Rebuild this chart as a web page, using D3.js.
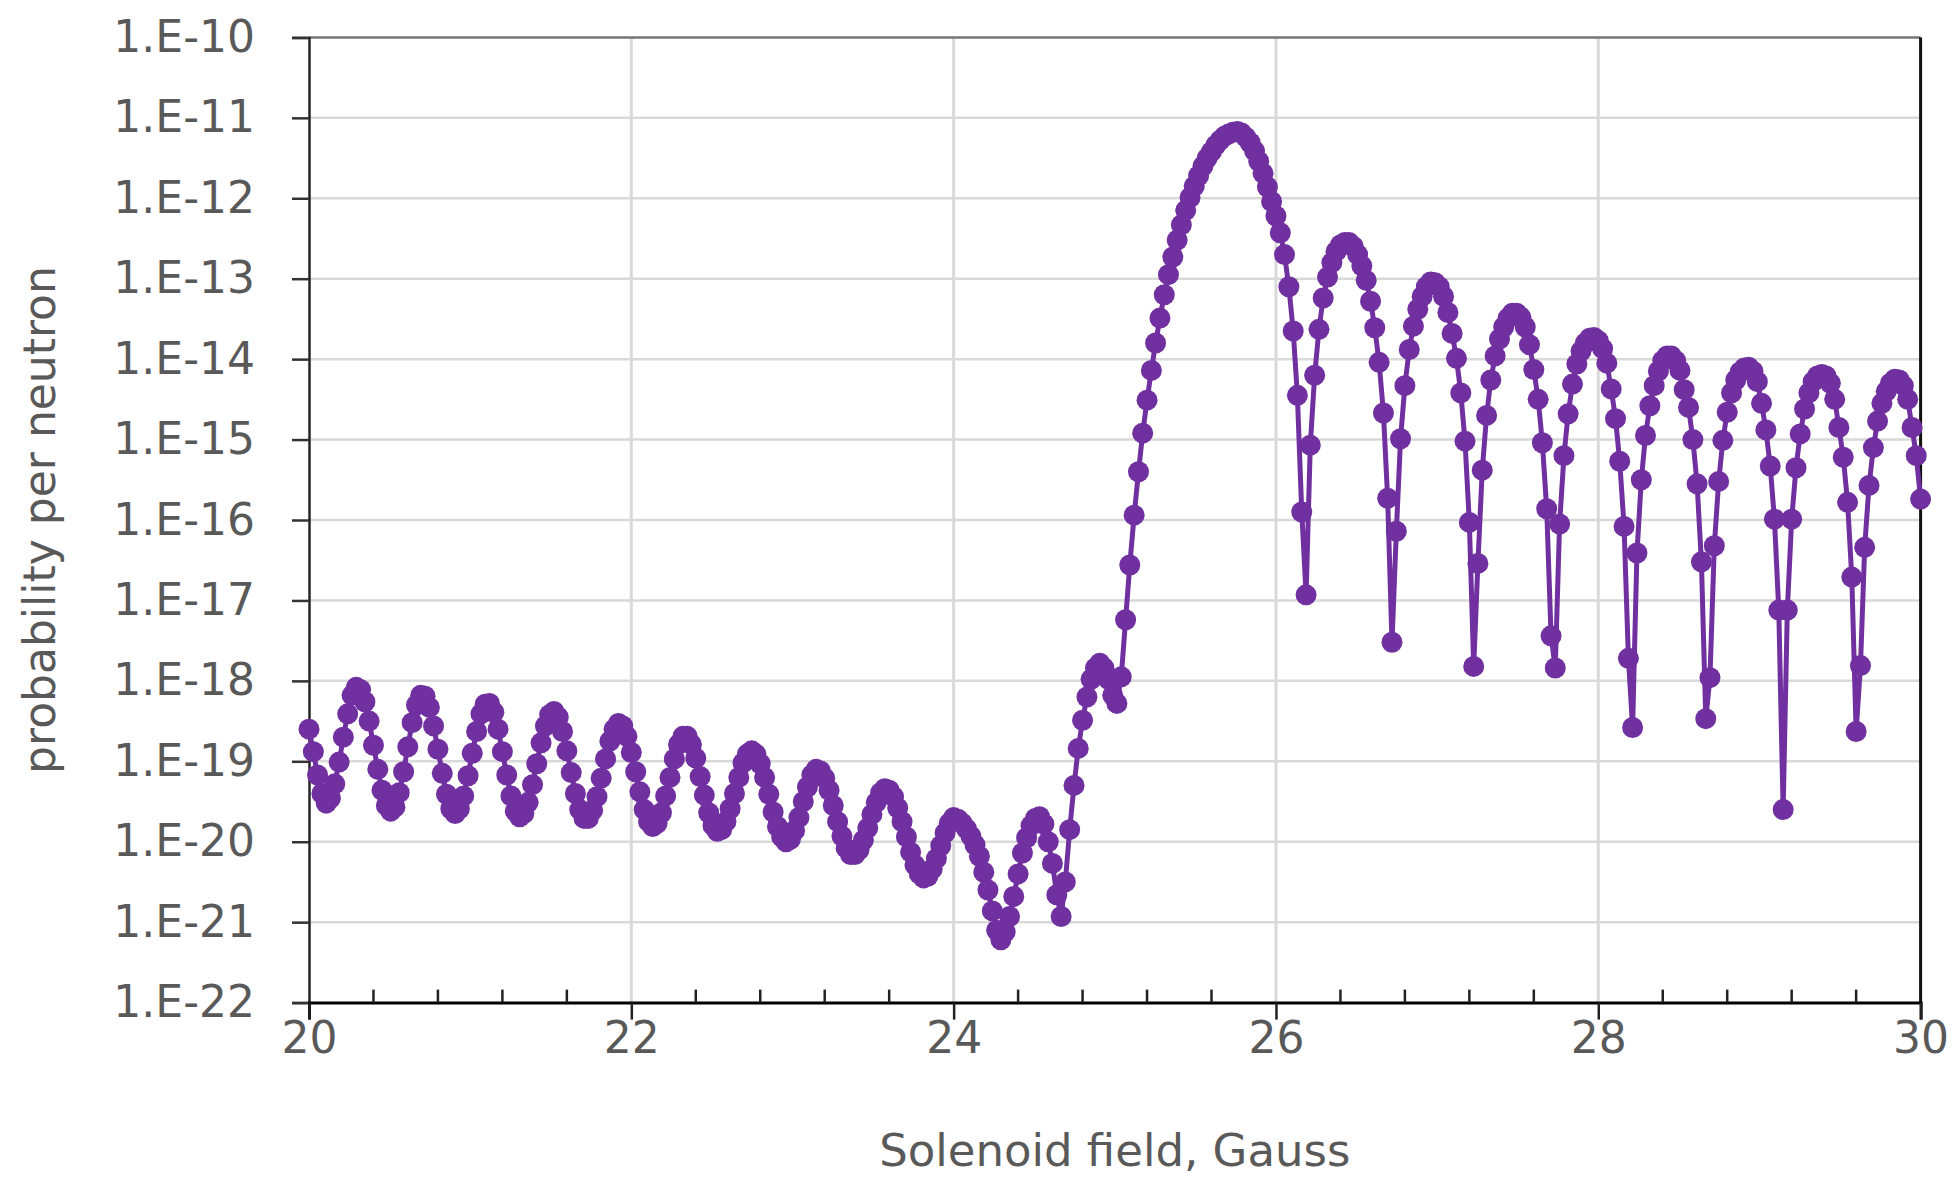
<!DOCTYPE html>
<html><head><meta charset="utf-8">
<script src="https://cdn.jsdelivr.net/npm/d3@7"></script>
<style>html,body{margin:0;padding:0;background:#fff;} svg{display:block;}</style>
</head><body><svg id="chart" width="1953" height="1182"></svg>
<script>
// Solenoid field (Gauss) sample grid
const fieldGauss = [
20,20.027,20.053,20.08,20.107,20.133,20.16,20.187,20.213,20.24,20.267,20.293,20.32,20.347,20.373,
20.4,20.427,20.453,20.48,20.507,20.533,20.56,20.587,20.613,20.64,20.667,20.693,20.72,20.747,20.773,
20.8,20.827,20.853,20.88,20.907,20.933,20.96,20.987,21.013,21.04,21.067,21.093,21.12,21.147,21.173,
21.2,21.227,21.253,21.28,21.307,21.333,21.36,21.387,21.413,21.44,21.467,21.493,21.52,21.547,21.573,
21.6,21.627,21.653,21.68,21.707,21.733,21.76,21.787,21.813,21.84,21.867,21.893,21.92,21.947,21.973,
22,22.027,22.053,22.08,22.107,22.133,22.16,22.187,22.213,22.24,22.267,22.293,22.32,22.347,22.373,
22.4,22.427,22.453,22.48,22.507,22.533,22.56,22.587,22.613,22.64,22.667,22.693,22.72,22.747,22.773,
22.8,22.827,22.853,22.88,22.907,22.933,22.96,22.987,23.013,23.04,23.067,23.093,23.12,23.147,23.173,
23.2,23.227,23.253,23.28,23.307,23.333,23.36,23.387,23.413,23.44,23.467,23.493,23.52,23.547,23.573,
23.6,23.627,23.653,23.68,23.707,23.733,23.76,23.787,23.813,23.84,23.867,23.893,23.92,23.947,23.973,
24,24.027,24.053,24.08,24.107,24.133,24.16,24.187,24.213,24.24,24.267,24.293,24.32,24.347,24.373,
24.4,24.427,24.453,24.48,24.507,24.533,24.56,24.587,24.613,24.64,24.667,24.693,24.72,24.747,24.773,
24.8,24.827,24.853,24.88,24.907,24.933,24.96,24.987,25.013,25.04,25.067,25.093,25.12,25.147,25.173,
25.2,25.227,25.253,25.28,25.307,25.333,25.36,25.387,25.413,25.44,25.467,25.493,25.52,25.547,25.573,
25.6,25.627,25.653,25.68,25.707,25.733,25.76,25.787,25.813,25.84,25.867,25.893,25.92,25.947,25.973,
26,26.027,26.053,26.08,26.107,26.133,26.16,26.187,26.213,26.24,26.267,26.293,26.32,26.347,26.373,
26.4,26.427,26.453,26.48,26.507,26.533,26.56,26.587,26.613,26.64,26.667,26.693,26.72,26.747,26.773,
26.8,26.827,26.853,26.88,26.907,26.933,26.96,26.987,27.013,27.04,27.067,27.093,27.12,27.147,27.173,
27.2,27.227,27.253,27.28,27.307,27.333,27.36,27.387,27.413,27.44,27.467,27.493,27.52,27.547,27.573,
27.6,27.627,27.653,27.68,27.707,27.733,27.76,27.787,27.813,27.84,27.867,27.893,27.92,27.947,27.973,
28,28.027,28.053,28.08,28.107,28.133,28.16,28.187,28.213,28.24,28.267,28.293,28.32,28.347,28.373,
28.4,28.427,28.453,28.48,28.507,28.533,28.56,28.587,28.613,28.64,28.667,28.693,28.72,28.747,28.773,
28.8,28.827,28.853,28.88,28.907,28.933,28.96,28.987,29.013,29.04,29.067,29.093,29.12,29.147,29.173,
29.2,29.227,29.253,29.28,29.307,29.333,29.36,29.387,29.413,29.44,29.467,29.493,29.52,29.547,29.573,
29.6,29.627,29.653,29.68,29.707,29.733,29.76,29.787,29.813,29.84,29.867,29.893,29.92,29.947,29.973,
30
];

// probability per neutron, stored as base-10 exponents
const probabilityExponent = [
-18.60,-18.88,-19.17,-19.40,-19.52,-19.46,-19.28,-19.01,-18.70,-18.41,-18.18,-18.08,-18.11,-18.26,-18.50,
-18.80,-19.10,-19.36,-19.55,-19.62,-19.57,-19.39,-19.13,-18.82,-18.52,-18.30,-18.18,-18.19,-18.33,-18.56,
-18.85,-19.15,-19.41,-19.59,-19.65,-19.59,-19.43,-19.18,-18.90,-18.63,-18.41,-18.29,-18.28,-18.39,-18.60,
-18.88,-19.17,-19.43,-19.62,-19.69,-19.65,-19.51,-19.29,-19.03,-18.77,-18.56,-18.42,-18.38,-18.45,-18.63,
-18.87,-19.14,-19.40,-19.60,-19.71,-19.71,-19.61,-19.44,-19.21,-18.97,-18.75,-18.60,-18.53,-18.56,-18.69,
-18.89,-19.13,-19.38,-19.60,-19.75,-19.81,-19.77,-19.64,-19.43,-19.20,-18.97,-18.79,-18.69,-18.69,-18.79,
-18.96,-19.19,-19.42,-19.64,-19.80,-19.87,-19.85,-19.75,-19.59,-19.40,-19.20,-19.02,-18.91,-18.87,-18.91,
-19.03,-19.20,-19.41,-19.63,-19.81,-19.94,-20.00,-19.97,-19.86,-19.70,-19.50,-19.32,-19.17,-19.10,-19.12,
-19.21,-19.36,-19.55,-19.75,-19.93,-20.08,-20.16,-20.16,-20.10,-19.98,-19.83,-19.66,-19.51,-19.39,-19.34,
-19.36,-19.44,-19.58,-19.75,-19.94,-20.13,-20.29,-20.40,-20.45,-20.43,-20.34,-20.21,-20.05,-19.89,-19.77,
-19.70,-19.72,-19.77,-19.84,-19.93,-20.04,-20.18,-20.38,-20.60,-20.86,-21.10,-21.22,-21.12,-20.93,-20.68,
-20.40,-20.14,-19.95,-19.80,-19.71,-19.69,-19.78,-20.00,-20.27,-20.66,-20.93,-20.50,-19.85,-19.30,-18.84,
-18.49,-18.20,-17.98,-17.84,-17.78,-17.84,-17.98,-18.18,-18.28,-17.95,-17.24,-16.56,-15.94,-15.40,-14.92,
-14.51,-14.14,-13.80,-13.49,-13.20,-12.95,-12.73,-12.52,-12.33,-12.15,-11.99,-11.85,-11.72,-11.60,-11.50,
-11.42,-11.34,-11.28,-11.23,-11.20,-11.18,-11.17,-11.19,-11.24,-11.31,-11.41,-11.54,-11.69,-11.86,-12.04,
-12.22,-12.43,-12.70,-13.10,-13.65,-14.45,-15.90,-16.93,-15.07,-14.20,-13.63,-13.24,-12.98,-12.80,-12.66,
-12.58,-12.55,-12.55,-12.60,-12.70,-12.84,-13.02,-13.28,-13.61,-14.04,-14.67,-15.73,-17.52,-16.14,-14.99,
-14.33,-13.88,-13.59,-13.38,-13.22,-13.10,-13.04,-13.05,-13.10,-13.22,-13.42,-13.68,-13.99,-14.42,-15.02,
-16.03,-17.82,-16.54,-15.38,-14.70,-14.26,-13.96,-13.75,-13.60,-13.49,-13.43,-13.43,-13.48,-13.60,-13.82,
-14.13,-14.50,-15.04,-15.86,-17.44,-17.84,-16.05,-15.20,-14.68,-14.31,-14.06,-13.90,-13.80,-13.74,-13.73,
-13.77,-13.87,-14.05,-14.37,-14.74,-15.27,-16.08,-17.72,-18.58,-16.41,-15.50,-14.95,-14.58,-14.33,-14.15,
-14.02,-13.96,-13.96,-14.02,-14.14,-14.38,-14.60,-15.00,-15.55,-16.52,-18.47,-17.96,-16.32,-15.52,-15.01,
-14.66,-14.42,-14.26,-14.16,-14.11,-14.10,-14.15,-14.28,-14.55,-14.88,-15.33,-15.99,-17.12,-19.60,-17.12,
-15.99,-15.35,-14.93,-14.62,-14.42,-14.28,-14.21,-14.19,-14.21,-14.30,-14.50,-14.85,-15.22,-15.78,-16.71,
-18.63,-17.81,-16.34,-15.57,-15.10,-14.77,-14.55,-14.40,-14.30,-14.25,-14.26,-14.33,-14.50,-14.85,-15.20,
-15.74
];

const xTickValues = [20, 22, 24, 26, 28, 30];
const xTickLabels = ["20", "22", "24", "26", "28", "30"];
const xMinorTickValues = [20.4,20.8,21.2,21.6,22.4,22.8,23.2,23.6,24.4,24.8,25.2,25.6,26.4,26.8,27.2,27.6,28.4,28.8,29.2,29.6];
const yTickExponents = [-10,-11,-12,-13,-14,-15,-16,-17,-18,-19,-20,-21,-22];
const yTickLabels = ["1.E-10","1.E-11","1.E-12","1.E-13","1.E-14","1.E-15","1.E-16","1.E-17","1.E-18","1.E-19","1.E-20","1.E-21","1.E-22"];
const xTitle = "Solenoid field, Gauss";
const yTitle = "probability per neutron";

const probability = probabilityExponent.map(e => Math.pow(10, e));
const yTickValues = yTickExponents.map(e => Math.pow(10, e));
const points = fieldGauss.map((f, i) => ({ f, p: probability[i] }));

const svg = d3.select("#chart");
const FONT = "'DejaVu Sans', sans-serif";
const TXT = "#595959";
const PURPLE = "#7030A0";
const L = 309, R = 1920.6, T = 37.4, B = 1002.6;

const x = d3.scaleLinear().domain([20, 30]).range([L, R]);
const y = d3.scaleLog().domain([1e-22, 1e-10]).range([B, T]);

// gridlines
svg.append("g").selectAll("line").data(yTickValues.slice(1, -1)).join("line")
  .attr("x1", L).attr("x2", R).attr("y1", d => y(d)).attr("y2", d => y(d))
  .attr("stroke", "#d9d9d9").attr("stroke-width", 2.5);
svg.append("g").selectAll("line").data(xTickValues.slice(1, -1)).join("line")
  .attr("x1", d => x(d)).attr("x2", d => x(d)).attr("y1", T).attr("y2", B)
  .attr("stroke", "#d9d9d9").attr("stroke-width", 3);

// top and right border
svg.append("line").attr("x1", L).attr("x2", R).attr("y1", T).attr("y2", T)
  .attr("stroke", "#767676").attr("stroke-width", 2.5);
svg.append("line").attr("x1", R).attr("x2", R).attr("y1", T).attr("y2", B)
  .attr("stroke", "#111").attr("stroke-width", 3);

// y axis
const yAxis = d3.axisLeft(y).tickValues(yTickValues)
  .tickFormat((d, i) => yTickLabels[i]).tickSize(17).tickPadding(37);
const gy = svg.append("g").attr("transform", `translate(${L},0)`).call(yAxis);
gy.select(".domain").attr("stroke", "#262626").attr("stroke-width", 2.5);
gy.selectAll(".tick line").attr("stroke", "#333").attr("stroke-width", 2.5);
gy.selectAll(".tick text").attr("fill", TXT).style("font-family", FONT).style("font-size", "44px");

// x axis
const xAxis = d3.axisBottom(x).tickValues(xTickValues)
  .tickFormat((d, i) => xTickLabels[i]).tickSize(17).tickPadding(2);
const gx = svg.append("g").attr("transform", `translate(0,${B})`).call(xAxis);
gx.select(".domain").attr("stroke", "#000").attr("stroke-width", 3);
gx.selectAll(".tick line").attr("stroke", "#222").attr("stroke-width", 2.5);
gx.selectAll(".tick text").attr("fill", TXT).style("font-family", FONT).style("font-size", "44px");
// minor ticks (inside)
svg.append("g").selectAll("line").data(xMinorTickValues).join("line")
  .attr("x1", d => x(d)).attr("x2", d => x(d)).attr("y1", B).attr("y2", B - 13)
  .attr("stroke", "#222").attr("stroke-width", 2.5);

// titles
svg.append("text").attr("x", (L + R) / 2).attr("y", 1166).attr("text-anchor", "middle")
  .attr("fill", TXT).style("font-family", FONT).style("font-size", "45px").text(xTitle);
svg.append("text").attr("transform", `translate(55,${(T + B) / 2}) rotate(-90)`)
  .attr("text-anchor", "middle").attr("fill", TXT)
  .style("font-family", FONT).style("font-size", "44px").text(yTitle);

// series line
const line = d3.line().x(d => x(d.f)).y(d => y(d.p));
svg.append("path").datum(points).attr("d", line)
  .attr("fill", "none").attr("stroke", PURPLE).attr("stroke-width", 5).attr("stroke-linejoin", "round");

// markers
svg.append("g").selectAll("circle").data(points).join("circle")
  .attr("cx", d => x(d.f)).attr("cy", d => y(d.p)).attr("r", 10.5)
  .attr("fill", PURPLE);
</script></body></html>
